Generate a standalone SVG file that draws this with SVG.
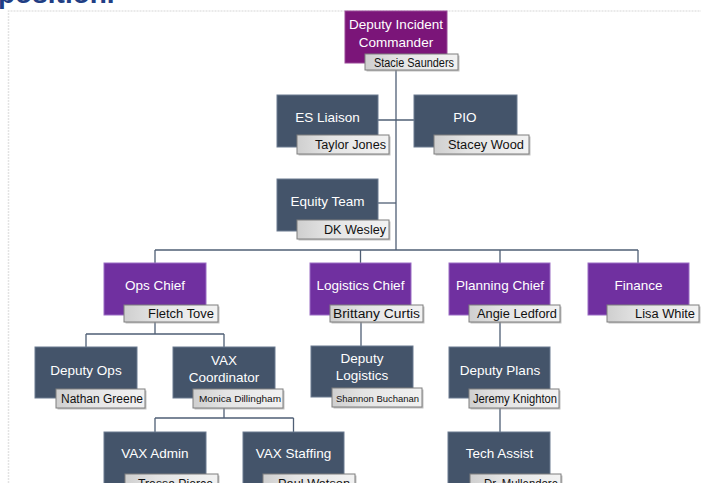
<svg xmlns="http://www.w3.org/2000/svg" width="701" height="483" viewBox="0 0 701 483">
<style>
.bg{fill:#ffffff}
.frame{fill:none;stroke:#e3e3e3;stroke-width:1.5;stroke-dasharray:2 1}
.head{font-family:"Liberation Sans",Arial,sans-serif;font-weight:bold;font-size:28px;fill:#213e84}
.slate{fill:#44546a;stroke:#6b7a90;stroke-width:1}
.purple{fill:#7030a0;stroke:#9a6cc4;stroke-width:1}
.dic{fill:#7b1579;stroke:#9a4a98;stroke-width:1}
.lab{fill:url(#lg);stroke:#7f7f7f;stroke-width:1}
.shd{fill:#9a9a9a;opacity:0.6}
.t{font-family:"Liberation Sans",Arial,sans-serif;font-size:13.5px;fill:#ffffff;text-anchor:middle}
.n{font-family:"Liberation Sans",Arial,sans-serif;font-size:12px;fill:#111111;text-anchor:end}
.ns{font-family:"Liberation Sans",Arial,sans-serif;font-size:9.5px;fill:#111111;text-anchor:end}
.c{fill:none;stroke:#4f5f75;stroke-width:1.3}
</style>
<defs>
<linearGradient id="lg" x1="0" y1="0" x2="1" y2="0">
<stop offset="0" stop-color="#cfcfcf"/>
<stop offset="0.35" stop-color="#e4e4e4"/>
<stop offset="1" stop-color="#f2f2f2"/>
</linearGradient>
</defs>
<rect class="bg" x="0" y="0" width="701" height="483"/>
<text class="head" x="-2" y="3">position.</text>
<path class="frame" d="M8.5,483 V11 H701"/>

<g id="connectors">
<path class="c" d="M396,63 V250"/>
<path class="c" d="M378,120 H414"/>
<path class="c" d="M378,203 H396"/>
<path class="c" d="M155,250 H638"/>
<path class="c" d="M155,250 V263 M360.5,250 V263 M500,250 V263 M638,250 V263"/>
<path class="c" d="M155,315 V334 M86,334 H224 M86,334 V347 M224,334 V347"/>
<path class="c" d="M361,315 V346"/>
<path class="c" d="M500,315 V347 M500,398 V432"/>
<path class="c" d="M224,398 V418 M155,418 H293.5 M155,418 V432 M293.5,418 V432"/>
</g>

<g id="dic">
<rect class="dic" x="345" y="11" width="102" height="52"/>
<text class="t" x="396" y="29">Deputy Incident</text>
<text class="t" x="396" y="47">Commander</text>
<rect class="shd" x="366.5" y="55.5" width="93" height="16"/>
<rect class="lab" x="365" y="54" width="93" height="16"/>
<text class="n" x="454" y="66.5" textLength="80" lengthAdjust="spacingAndGlyphs">Stacie Saunders</text>
</g>

<g id="es-liaison">
<rect class="slate" x="277" y="95" width="101" height="52"/>
<text class="t" x="327.5" y="122">ES Liaison</text>
<rect class="shd" x="298.5" y="136.5" width="92" height="19"/>
<rect class="lab" x="297" y="135" width="92" height="19"/>
<text class="n" x="386" y="149" textLength="71" lengthAdjust="spacingAndGlyphs">Taylor Jones</text>
</g>

<g id="pio">
<rect class="slate" x="414" y="95" width="103" height="52"/>
<text class="t" x="465" y="122">PIO</text>
<rect class="shd" x="435.5" y="136.5" width="95" height="19"/>
<rect class="lab" x="434" y="135" width="95" height="19"/>
<text class="n" x="524" y="149" textLength="76" lengthAdjust="spacingAndGlyphs">Stacey Wood</text>
</g>

<g id="equity-team">
<rect class="slate" x="277" y="179" width="101" height="52"/>
<text class="t" x="327.5" y="206">Equity Team</text>
<rect class="shd" x="298.5" y="221.5" width="92" height="19"/>
<rect class="lab" x="297" y="220" width="92" height="19"/>
<text class="n" x="386" y="234" textLength="62" lengthAdjust="spacingAndGlyphs">DK Wesley</text>
</g>

<g id="ops-chief">
<rect class="purple" x="104" y="263" width="102" height="52"/>
<text class="t" x="155" y="290">Ops Chief</text>
<rect class="shd" x="125.5" y="306.5" width="94" height="17"/>
<rect class="lab" x="124" y="305" width="94" height="17"/>
<text class="n" x="214" y="317.5" textLength="66" lengthAdjust="spacingAndGlyphs">Fletch Tove</text>
</g>

<g id="logistics-chief">
<rect class="purple" x="310" y="263" width="101" height="52"/>
<text class="t" x="360.5" y="290">Logistics Chief</text>
<rect class="shd" x="331.5" y="306.5" width="93" height="17"/>
<rect class="lab" x="330" y="305" width="93" height="17"/>
<text class="n" x="420" y="317.5" textLength="87" lengthAdjust="spacingAndGlyphs">Brittany Curtis</text>
</g>

<g id="planning-chief">
<rect class="purple" x="449" y="263" width="101" height="52"/>
<text class="t" x="500" y="290">Planning Chief</text>
<rect class="shd" x="470.5" y="306.5" width="91" height="17"/>
<rect class="lab" x="469" y="305" width="91" height="17"/>
<text class="n" x="557" y="317.5" textLength="80" lengthAdjust="spacingAndGlyphs">Angie Ledford</text>
</g>

<g id="finance">
<rect class="purple" x="588" y="263" width="101" height="52"/>
<text class="t" x="638.5" y="290">Finance</text>
<rect class="shd" x="608.5" y="306.5" width="92" height="17"/>
<rect class="lab" x="607" y="305" width="92" height="17"/>
<text class="n" x="695" y="317.5" textLength="60" lengthAdjust="spacingAndGlyphs">Lisa White</text>
</g>

<g id="deputy-ops">
<rect class="slate" x="35" y="347" width="102" height="51"/>
<text class="t" x="86" y="375">Deputy Ops</text>
<rect class="shd" x="57.5" y="390.5" width="89" height="19"/>
<rect class="lab" x="56" y="389" width="89" height="19"/>
<text class="n" x="143" y="403" textLength="82" lengthAdjust="spacingAndGlyphs">Nathan Greene</text>
</g>

<g id="vax-coordinator">
<rect class="slate" x="173" y="347" width="102" height="51"/>
<text class="t" x="224" y="365">VAX</text>
<text class="t" x="224" y="382">Coordinator</text>
<rect class="shd" x="194.5" y="390.5" width="90" height="19"/>
<rect class="lab" x="193" y="389" width="90" height="19"/>
<text class="ns" x="281" y="402" textLength="82" lengthAdjust="spacingAndGlyphs">Monica Dillingham</text>
</g>

<g id="deputy-logistics">
<rect class="slate" x="311" y="346" width="102" height="51"/>
<text class="t" x="362" y="363">Deputy</text>
<text class="t" x="362" y="380">Logistics</text>
<rect class="shd" x="333.5" y="389.5" width="90" height="19"/>
<rect class="lab" x="332" y="388" width="90" height="19"/>
<text class="ns" x="419" y="401.5" textLength="83" lengthAdjust="spacingAndGlyphs">Shannon Buchanan</text>
</g>

<g id="deputy-plans">
<rect class="slate" x="449" y="347" width="101" height="51"/>
<text class="t" x="500" y="375">Deputy Plans</text>
<rect class="shd" x="470.5" y="390.5" width="90" height="19"/>
<rect class="lab" x="469" y="389" width="90" height="19"/>
<text class="n" x="557" y="403" textLength="84" lengthAdjust="spacingAndGlyphs">Jeremy Knighton</text>
</g>

<g id="vax-admin">
<rect class="slate" x="104" y="432" width="102" height="60"/>
<text class="t" x="155" y="458">VAX Admin</text>
<rect class="shd" x="126.5" y="475.5" width="93" height="19"/>
<rect class="lab" x="125" y="474" width="93" height="19"/>
<text class="n" x="213" y="488" textLength="75" lengthAdjust="spacingAndGlyphs">Tressa Pierce</text>
</g>

<g id="vax-staffing">
<rect class="slate" x="243" y="432" width="101" height="60"/>
<text class="t" x="293.5" y="458">VAX Staffing</text>
<rect class="shd" x="264.5" y="475.5" width="92" height="19"/>
<rect class="lab" x="263" y="474" width="92" height="19"/>
<text class="n" x="350" y="488" textLength="72" lengthAdjust="spacingAndGlyphs">Paul Watson</text>
</g>

<g id="tech-assist">
<rect class="slate" x="448" y="432" width="102" height="60"/>
<text class="t" x="499.5" y="458">Tech Assist</text>
<rect class="shd" x="471.5" y="475.5" width="91" height="19"/>
<rect class="lab" x="470" y="474" width="91" height="19"/>
<text class="n" x="558" y="488" textLength="74" lengthAdjust="spacingAndGlyphs">Dr. Mullendore</text>
</g>
</svg>
